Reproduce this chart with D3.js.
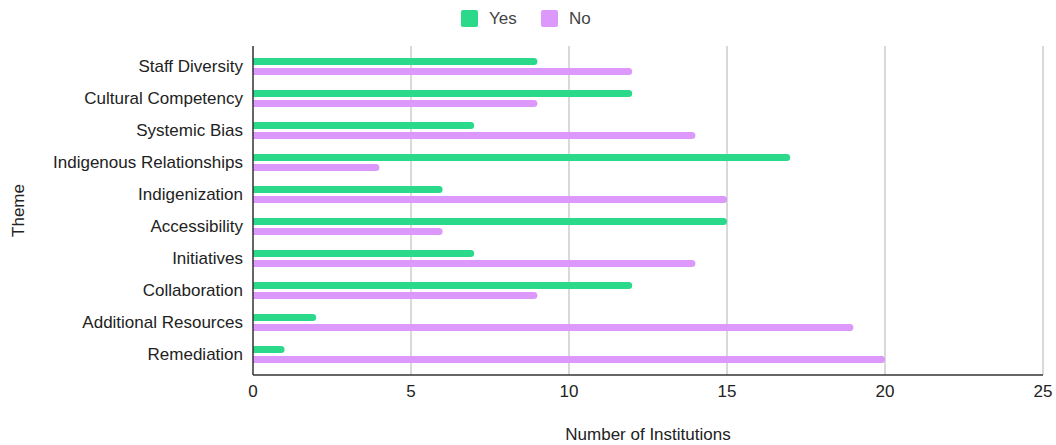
<!DOCTYPE html>
<html>
<head>
<meta charset="utf-8">
<script src="https://cdn.jsdelivr.net/npm/d3@7"></script>
<style>
  body { margin: 0; background: #fff; }
  text { font-family: "Liberation Sans", Arial, sans-serif; fill: #222; }
</style>
</head>
<body>
<script>
var themes = ["Staff Diversity", "Cultural Competency", "Systemic Bias", "Indigenous Relationships",
  "Indigenization", "Accessibility", "Initiatives", "Collaboration", "Additional Resources", "Remediation"];
var yesValues = [9, 12, 7, 17, 6, 15, 7, 12, 2, 1];
var noValues = [12, 9, 14, 4, 15, 6, 14, 9, 19, 20];
var seriesNames = ["Yes", "No"];
var seriesColors = ["#2ad98a", "#dc98fa"];
var xTicks = [0, 5, 10, 15, 20, 25];

var W = 1056, H = 445;
var plotLeft = 253, plotRight = 1043, plotTop = 46, plotBottom = 375;

var svg = d3.select("body").append("svg")
    .attr("width", W)
    .attr("height", H);

var x = d3.scaleLinear().domain([0, 25]).range([plotLeft, plotRight]);
var y = d3.scaleBand().domain(themes).range([50.5, 370.5]);
var sub = d3.scaleBand().domain(seriesNames).range([-8.5, 8.5]).paddingInner(0.3);

// gridlines
svg.append("g")
  .selectAll("line")
  .data(xTicks.slice(1))
  .enter().append("line")
    .attr("x1", d => x(d)).attr("x2", d => x(d))
    .attr("y1", plotTop).attr("y2", plotBottom)
    .attr("stroke", "#cccccc")
    .attr("stroke-width", 1.5);

// bars
var rows = themes.map((t, i) => ({ theme: t, values: [
  { name: "Yes", value: yesValues[i] },
  { name: "No", value: noValues[i] }
]}));

var slice = svg.selectAll(".row")
    .data(rows)
    .enter().append("g")
    .attr("class", "row")
    .attr("transform", d => "translate(0," + (y(d.theme) + y.bandwidth() / 2) + ")");

slice.selectAll("path")
    .data(d => d.values)
    .enter().append("path")
    .attr("fill", (d, i) => seriesColors[i])
    .attr("d", d => {
      var x0 = x(0), x1 = x(d.value), y0 = sub(d.name), h = sub.bandwidth(), r = h / 2;
      return "M" + x0 + "," + y0 + "H" + (x1 - r) +
        "A" + r + "," + r + " 0 0 1 " + (x1 - r) + "," + (y0 + h) +
        "H" + x0 + "Z";
    });

// axes lines
svg.append("line")
    .attr("x1", plotLeft).attr("x2", plotRight)
    .attr("y1", plotBottom).attr("y2", plotBottom)
    .attr("stroke", "#333").attr("stroke-width", 1.5);
svg.append("line")
    .attr("x1", plotLeft).attr("x2", plotLeft)
    .attr("y1", plotTop).attr("y2", plotBottom)
    .attr("stroke", "#333").attr("stroke-width", 1.5);

// x tick labels
svg.append("g")
  .selectAll("text")
  .data(xTicks)
  .enter().append("text")
    .attr("x", d => x(d))
    .attr("y", 397)
    .attr("text-anchor", "middle")
    .style("font-size", "17px")
    .text(d => d);

// y labels
svg.append("g")
  .selectAll("text")
  .data(themes)
  .enter().append("text")
    .attr("x", 243)
    .attr("y", d => y(d) + y.bandwidth() / 2)
    .attr("dy", "0.35em")
    .attr("text-anchor", "end")
    .style("font-size", "17px")
    .text(d => d);

// axis titles
svg.append("text")
    .attr("x", (plotLeft + plotRight) / 2)
    .attr("y", 440)
    .attr("text-anchor", "middle")
    .style("font-size", "17px")
    .text("Number of Institutions");

svg.append("text")
    .attr("transform", "translate(24," + ((plotTop + plotBottom) / 2) + ") rotate(-90)")
    .attr("text-anchor", "middle")
    .style("font-size", "17px")
    .text("Theme");

// legend
var legendX = [461, 541];
var legend = svg.selectAll(".legend")
    .data(seriesNames)
    .enter().append("g")
    .attr("class", "legend")
    .attr("transform", (d, i) => "translate(" + legendX[i] + ",10)");

legend.append("rect")
    .attr("width", 17).attr("height", 17)
    .attr("rx", 2)
    .attr("fill", (d, i) => seriesColors[i]);

legend.append("text")
    .attr("x", 28)
    .attr("y", 8.5)
    .attr("dy", "0.35em")
    .style("font-size", "17px")
    .style("fill", "#444")
    .text(d => d);
</script>
</body>
</html>
